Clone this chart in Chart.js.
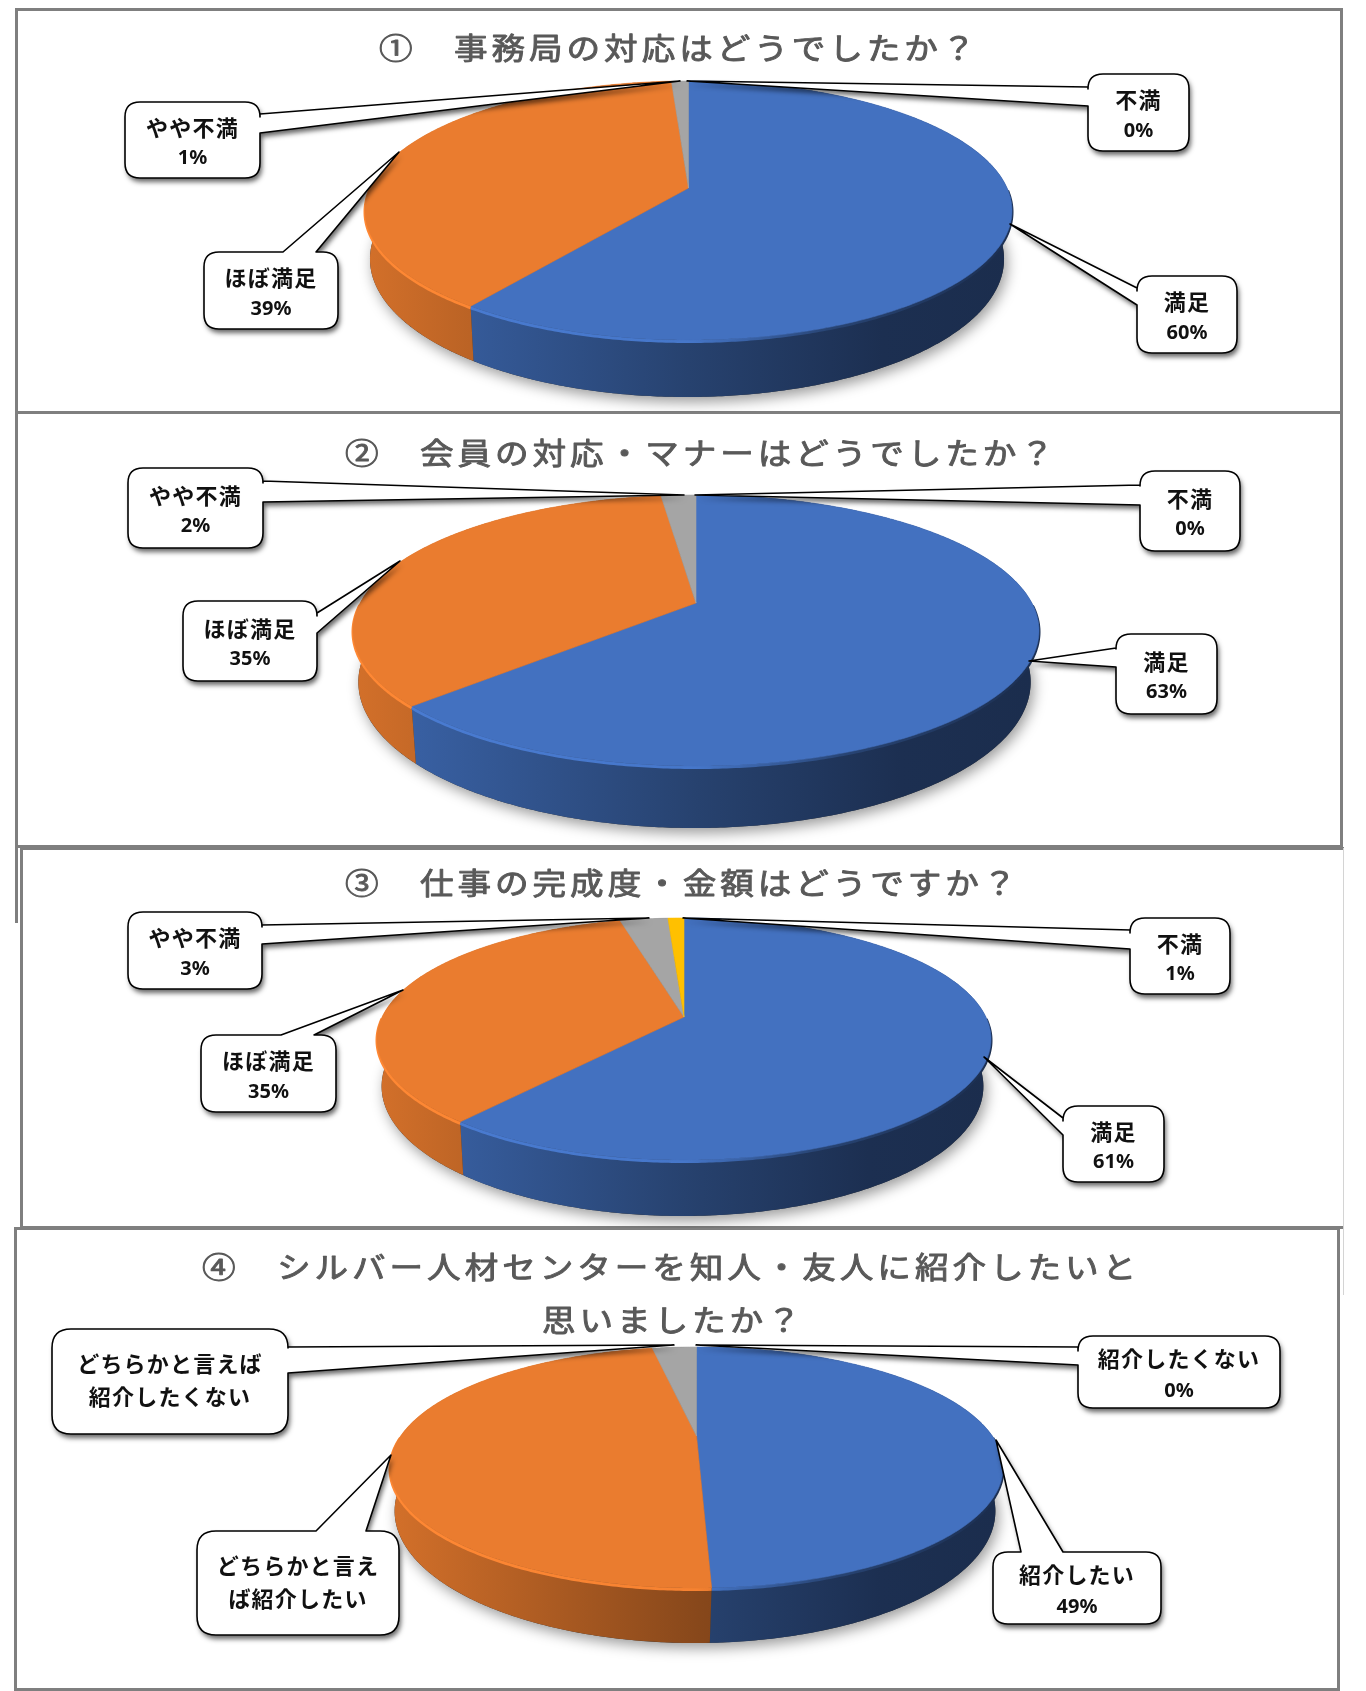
<!DOCTYPE html>
<html lang="ja">
<head>
<meta charset="utf-8">
<title>アンケート結果</title>
<script src="https://cdn.jsdelivr.net/npm/chart.js@4/dist/chart.umd.min.js"></script>
<style>
    html, body { margin: 0; padding: 0; background: #fff; }
    #page { position: relative; width: 1366px; height: 1691px; overflow: hidden; }
    .frame { position: absolute; box-sizing: border-box; border: 3px solid #7f7f7f; background: #fff; }
    canvas { position: absolute; left: 0; filter: blur(0.5px); }
</style>
</head>
<body>
<div id="page">
    <div class="frame" style="left:15px;top:8px;width:1328px;height:406px"></div>
    <div class="frame" style="left:15px;top:411px;width:1328px;height:437px"></div>
    <div class="frame" style="left:15px;top:840px;width:3px;height:83px;border-width:0 0 0 3px"></div>
    <div class="frame" style="left:20px;top:847px;width:1324px;height:382px;border-right:0"></div>
    <div class="frame" style="left:1343px;top:848px;width:1px;height:447px;border:0;background:#d4d4d4"></div>
    <div class="frame" style="left:14px;top:1227px;width:1326px;height:464px"></div>
    <canvas id="chart1" width="1366" height="400" style="top:12px"></canvas>
    <canvas id="chart2" width="1366" height="430" style="top:415px"></canvas>
    <canvas id="chart3" width="1366" height="378" style="top:850px"></canvas>
    <canvas id="chart4" width="1366" height="458" style="top:1231px"></canvas>
</div>
<script>
const sliceColors = ['#4371c0', '#ea7c2f', '#a5a5a5', '#ffc000'];

const title1 = ['①　事務局の対応はどうでしたか？'];
const labels1 = ['満足', 'ほぼ満足', 'やや不満', '不満'];
const values1 = [60, 39, 1, 0];

const title2 = ['②　会員の対応・マナーはどうでしたか？'];
const labels2 = ['満足', 'ほぼ満足', 'やや不満', '不満'];
const values2 = [63, 35, 2, 0];

const title3 = ['③　仕事の完成度・金額はどうですか？'];
const labels3 = ['満足', 'ほぼ満足', 'やや不満', '不満'];
const values3 = [61, 35, 3, 1];

const title4 = ['④　シルバー人材センターを知人・友人に紹介したいと', '思いましたか？'];
const labels4 = ['紹介したい', ['どちらかと言え', 'ば紹介したい'], ['どちらかと言えば', '紹介したくない'], '紹介したくない'];
const values4 = [49.4, 47.6, 3, 0];
const hiddenPct4 = [1, 2];

// layout, page coordinates
const panels = [
    {
        id: 'chart1', labels: labels1, values: values1, title: title1, hiddenPct: [],
        top: 12, titleX: [379], titleY: [48],
        pie: { cx: 688.5, halfW: 323.5, top: 81, apex: 188, bottom: 340, depth: 57 },
        callouts: [
            { slice: 0, box: [1137, 276, 100, 77], side: 'l', tail: [288, 305], tip: [1010, 224], gap: 29 },
            { slice: 1, box: [204, 252, 134, 77], side: 't', tail: [283, 316], tip: [399, 152], gap: 29 },
            { slice: 2, box: [125, 102, 135, 76], side: 'r', tail: [114, 133], tip: [680, 81], gap: 29 },
            { slice: 3, box: [1088, 74, 101, 77], side: 'l', tail: [87, 106], tip: [687, 81], gap: 29 }
        ]
    },
    {
        id: 'chart2', labels: labels2, values: values2, title: title2, hiddenPct: [],
        top: 415, titleX: [345], titleY: [453],
        pie: { cx: 696, halfW: 343, top: 495, apex: 603, bottom: 766, depth: 62 },
        callouts: [
            { slice: 0, box: [1116, 634, 101, 80], side: 'l', tail: [648, 667], tip: [1029, 661], gap: 29 },
            { slice: 1, box: [183, 601, 134, 80], side: 'r', tail: [613, 633], tip: [400, 561], gap: 29 },
            { slice: 2, box: [128, 468, 135, 80], side: 'r', tail: [481, 502], tip: [684, 495], gap: 29 },
            { slice: 3, box: [1140, 471, 100, 80], side: 'l', tail: [485, 505], tip: [695, 495], gap: 29 }
        ]
    },
    {
        id: 'chart3', labels: labels3, values: values3, title: title3, hiddenPct: [],
        top: 850, titleX: [345], titleY: [883],
        pie: { cx: 684, halfW: 307, top: 918, apex: 1017, bottom: 1160, depth: 56 },
        callouts: [
            { slice: 0, box: [1063, 1106, 101, 76], side: 'l', tail: [1118, 1135], tip: [984, 1057], gap: 29 },
            { slice: 1, box: [201, 1035, 135, 77], side: 't', tail: [281, 314], tip: [403, 990], gap: 29 },
            { slice: 2, box: [128, 912, 134, 77], side: 'r', tail: [925, 944], tip: [649, 918], gap: 29 },
            { slice: 3, box: [1130, 918, 100, 76], side: 'l', tail: [930, 949], tip: [683, 918], gap: 29 }
        ]
    },
    {
        id: 'chart4', labels: labels4, values: values4, title: title4, hiddenPct: hiddenPct4,
        top: 1231, titleX: [202, 542], titleY: [1267, 1320],
        pie: { cx: 696.5, halfW: 306.5, top: 1347, apex: 1436, bottom: 1588, depth: 55 },
        callouts: [
            { slice: 0, box: [993, 1552, 168, 72], side: 't', tail: [1021, 1063], tip: [996, 1440], gap: 30 },
            { slice: 1, box: [197, 1531, 202, 104], side: 't', tail: [316, 366], tip: [391, 1455], gap: 33 },
            { slice: 2, box: [52, 1329, 236, 105], side: 'r', tail: [1347, 1373], tip: [674, 1345], gap: 33 },
            { slice: 3, box: [1078, 1336, 202, 72], side: 'l', tail: [1347, 1365], tip: [696, 1345], gap: 30 }
        ]
    }
];

// projects a point of the unit disc on to the tilted pie (near edge looks bigger)
function makeProjection(pie) {
    const c = (2 * pie.apex - pie.top - pie.bottom) / (pie.bottom - pie.top);
    const a = pie.apex - pie.top * (1 - c);
    const r = pie.halfW * Math.sqrt(1 - c * c);
    return {
        c,
        point(angle) {
            const u = Math.cos(angle), v = Math.sin(angle), w = 1 + c * v;
            return [pie.cx + r * u / w, (a * v + pie.apex) / w];
        },
        lower(angle) {
            const p = this.point(angle), v = Math.sin(angle);
            return [pie.cx - 1.5 + (p[0] - pie.cx) * 0.98, p[1] + pie.depth * (1 + c) / (1 + c * v)];
        }
    };
}

function shade(hex, k) {
    const n = parseInt(hex.slice(1), 16);
    const ch = v => Math.min(255, Math.round(v * k));
    return `rgb(${ch((n >> 16) & 255)},${ch((n >> 8) & 255)},${ch(n & 255)})`;
}

function sampleAngles(start, end) {
    const list = [];
    const steps = Math.max(2, Math.ceil((end - start) / 0.01));
    for (let i = 0; i <= steps; i++) list.push(start + (end - start) * i / steps);
    return list;
}

function drawSides(ctx, pie, proj, arcs) {
    // soft shadow under the whole pie
    ctx.save();
    ctx.shadowColor = 'rgba(0,0,0,0.4)';
    ctx.shadowBlur = 14;
    ctx.shadowOffsetX = 3;
    ctx.shadowOffsetY = 5;
    ctx.fillStyle = '#333';
    ctx.beginPath();
    sampleAngles(0, Math.PI * 2).forEach(a => { const p = proj.lower(a); ctx.lineTo(p[0], p[1]); });
    ctx.closePath();
    ctx.fill();
    ctx.restore();

    arcs.forEach(arc => {
        const color = arc.options.backgroundColor;
        const grad = ctx.createLinearGradient(pie.cx - pie.halfW, 0, pie.cx + pie.halfW, 0);
        grad.addColorStop(0, shade(color, 0.9));
        grad.addColorStop(0.5, shade(color, 0.58));
        grad.addColorStop(0.8, shade(color, 0.42));
        grad.addColorStop(1, shade(color, 0.4));
        const angles = sampleAngles(arc.startAngle, arc.endAngle);
        ctx.fillStyle = grad;
        ctx.beginPath();
        angles.forEach(a => { const p = proj.point(a); ctx.lineTo(p[0], p[1]); });
        angles.slice().reverse().forEach(a => { const p = proj.lower(a); ctx.lineTo(p[0], p[1]); });
        ctx.closePath();
        ctx.fill();
    });
}

function drawTop(ctx, pie, proj, arcs) {
    arcs.forEach(arc => {
        const color = arc.options.backgroundColor;
        // bevel along the near rim, bright on the left and fading out to the right
        const grad = ctx.createLinearGradient(pie.cx - pie.halfW, 0, pie.cx + pie.halfW, 0);
        grad.addColorStop(0, shade(color, 1.1));
        grad.addColorStop(0.5, shade(color, 1.05));
        grad.addColorStop(0.72, shade(color, 0.6));
        grad.addColorStop(1, shade(color, 0.42));
        ctx.strokeStyle = grad;
        ctx.lineWidth = 3;
        ctx.beginPath();
        sampleAngles(arc.startAngle, arc.endAngle).forEach(a => {
            if (Math.sin(a) < 0) return;
            const p = proj.point(a);
            ctx.lineTo(p[0], p[1] + 1.5);
        });
        ctx.stroke();
    });
    arcs.forEach(arc => {
        const color = arc.options.backgroundColor;
        ctx.fillStyle = color;
        ctx.strokeStyle = color;
        ctx.lineWidth = 0.6;
        ctx.beginPath();
        ctx.moveTo(pie.cx, pie.apex);
        sampleAngles(arc.startAngle, arc.endAngle).forEach(a => {
            const p = proj.point(a);
            ctx.lineTo(p[0], p[1]);
        });
        ctx.closePath();
        ctx.fill();
        ctx.stroke();
    });
}

function calloutPath(ctx, c) {
    const [x, y, w, h] = c.box;
    const r = c.radius;
    ctx.beginPath();
    ctx.moveTo(x + r, y);
    if (c.side === 't') {
        ctx.lineTo(c.tail[0], y);
        ctx.lineTo(c.tip[0], c.tip[1]);
        ctx.lineTo(c.tail[1], y);
    }
    ctx.lineTo(x + w - r, y);
    ctx.quadraticCurveTo(x + w, y, x + w, y + r);
    if (c.side === 'r') {
        ctx.lineTo(x + w, c.tail[0]);
        ctx.lineTo(c.tip[0], c.tip[1]);
        ctx.lineTo(x + w, c.tail[1]);
    }
    ctx.lineTo(x + w, y + h - r);
    ctx.quadraticCurveTo(x + w, y + h, x + w - r, y + h);
    ctx.lineTo(x + r, y + h);
    ctx.quadraticCurveTo(x, y + h, x, y + h - r);
    if (c.side === 'l') {
        ctx.lineTo(x, c.tail[1]);
        ctx.lineTo(c.tip[0], c.tip[1]);
        ctx.lineTo(x, c.tail[0]);
    }
    ctx.lineTo(x, y + r);
    ctx.quadraticCurveTo(x, y, x + r, y);
    ctx.closePath();
}

function drawCallout(ctx, chart, panel, c) {
    c.radius = c.box[3] > 90 ? 19 : 15;
    ctx.save();
    ctx.shadowColor = 'rgba(0,0,0,0.6)';
    ctx.shadowBlur = 5;
    ctx.shadowOffsetX = 2;
    ctx.shadowOffsetY = 4;
    ctx.fillStyle = '#fff';
    calloutPath(ctx, c);
    ctx.fill();
    ctx.restore();
    ctx.strokeStyle = '#000';
    ctx.lineWidth = 1.6;
    ctx.lineJoin = 'round';
    calloutPath(ctx, c);
    ctx.stroke();

    const lines = [].concat(chart.data.labels[c.slice]);
    const showPct = !panel.hiddenPct.includes(c.slice);
    if (showPct) lines.push(Math.round(chart.data.datasets[0].data[c.slice]) + '%');
    const centerX = c.box[0] + c.box[2] / 2;
    const midY = c.box[1] + c.box[3] / 2 + (showPct ? 3 : 0);
    ctx.fillStyle = '#111';
    ctx.textAlign = 'center';
    ctx.textBaseline = 'middle';
    lines.forEach((line, i) => {
        const isPct = showPct && i === lines.length - 1;
        ctx.font = isPct ? 'bold 20px "Noto Sans"' : 'bold 22px "Noto Sans CJK JP"';
        ctx.letterSpacing = isPct ? '0px' : '1.2px';
        const y = midY + (i - (lines.length - 1) / 2) * c.gap + (isPct ? 1 : -1);
        ctx.fillText(line, centerX, y);
    });
    ctx.letterSpacing = '0px';
}

function drawTitle(ctx, panel) {
    ctx.fillStyle = '#595959';
    ctx.strokeStyle = '#595959';
    ctx.lineWidth = 0.9;
    ctx.textAlign = 'left';
    ctx.textBaseline = 'middle';
    ctx.font = '30px "Noto Sans CJK JP"';
    ctx.letterSpacing = '3.5px';
    panel.title.forEach((line, i) => {
        ctx.save();
        ctx.translate(panel.titleX[i], panel.titleY[i]);
        ctx.scale(1.12, 1);   // the original glyphs are a bit wide
        ctx.fillText(line, 0, 0);
        ctx.strokeText(line, 0, 0);
        ctx.restore();
    });
    ctx.letterSpacing = '0px';
}

function pie3d(panel) {
    return {
        id: 'pie3d',
        beforeDatasetsDraw(chart) {
            const ctx = chart.ctx;
            const arcs = chart.getDatasetMeta(0).data.filter(a => a.endAngle - a.startAngle > 0.0001);
            const proj = makeProjection(panel.pie);
            ctx.save();
            ctx.translate(0, -panel.top);
            drawSides(ctx, panel.pie, proj, arcs);
            drawTop(ctx, panel.pie, proj, arcs);
            panel.callouts.forEach(c => drawCallout(ctx, chart, panel, c));
            drawTitle(ctx, panel);
            ctx.restore();
            return false;
        }
    };
}

panels.forEach(panel => {
    new Chart(document.getElementById(panel.id), {
        type: 'pie',
        data: {
            labels: panel.labels,
            datasets: [{ data: panel.values, backgroundColor: sliceColors, borderWidth: 0 }]
        },
        options: {
            responsive: false,
            animation: false,
            plugins: { legend: { display: false }, tooltip: { enabled: false } }
        },
        plugins: [pie3d(panel)]
    });
});
</script>
</body>
</html>
